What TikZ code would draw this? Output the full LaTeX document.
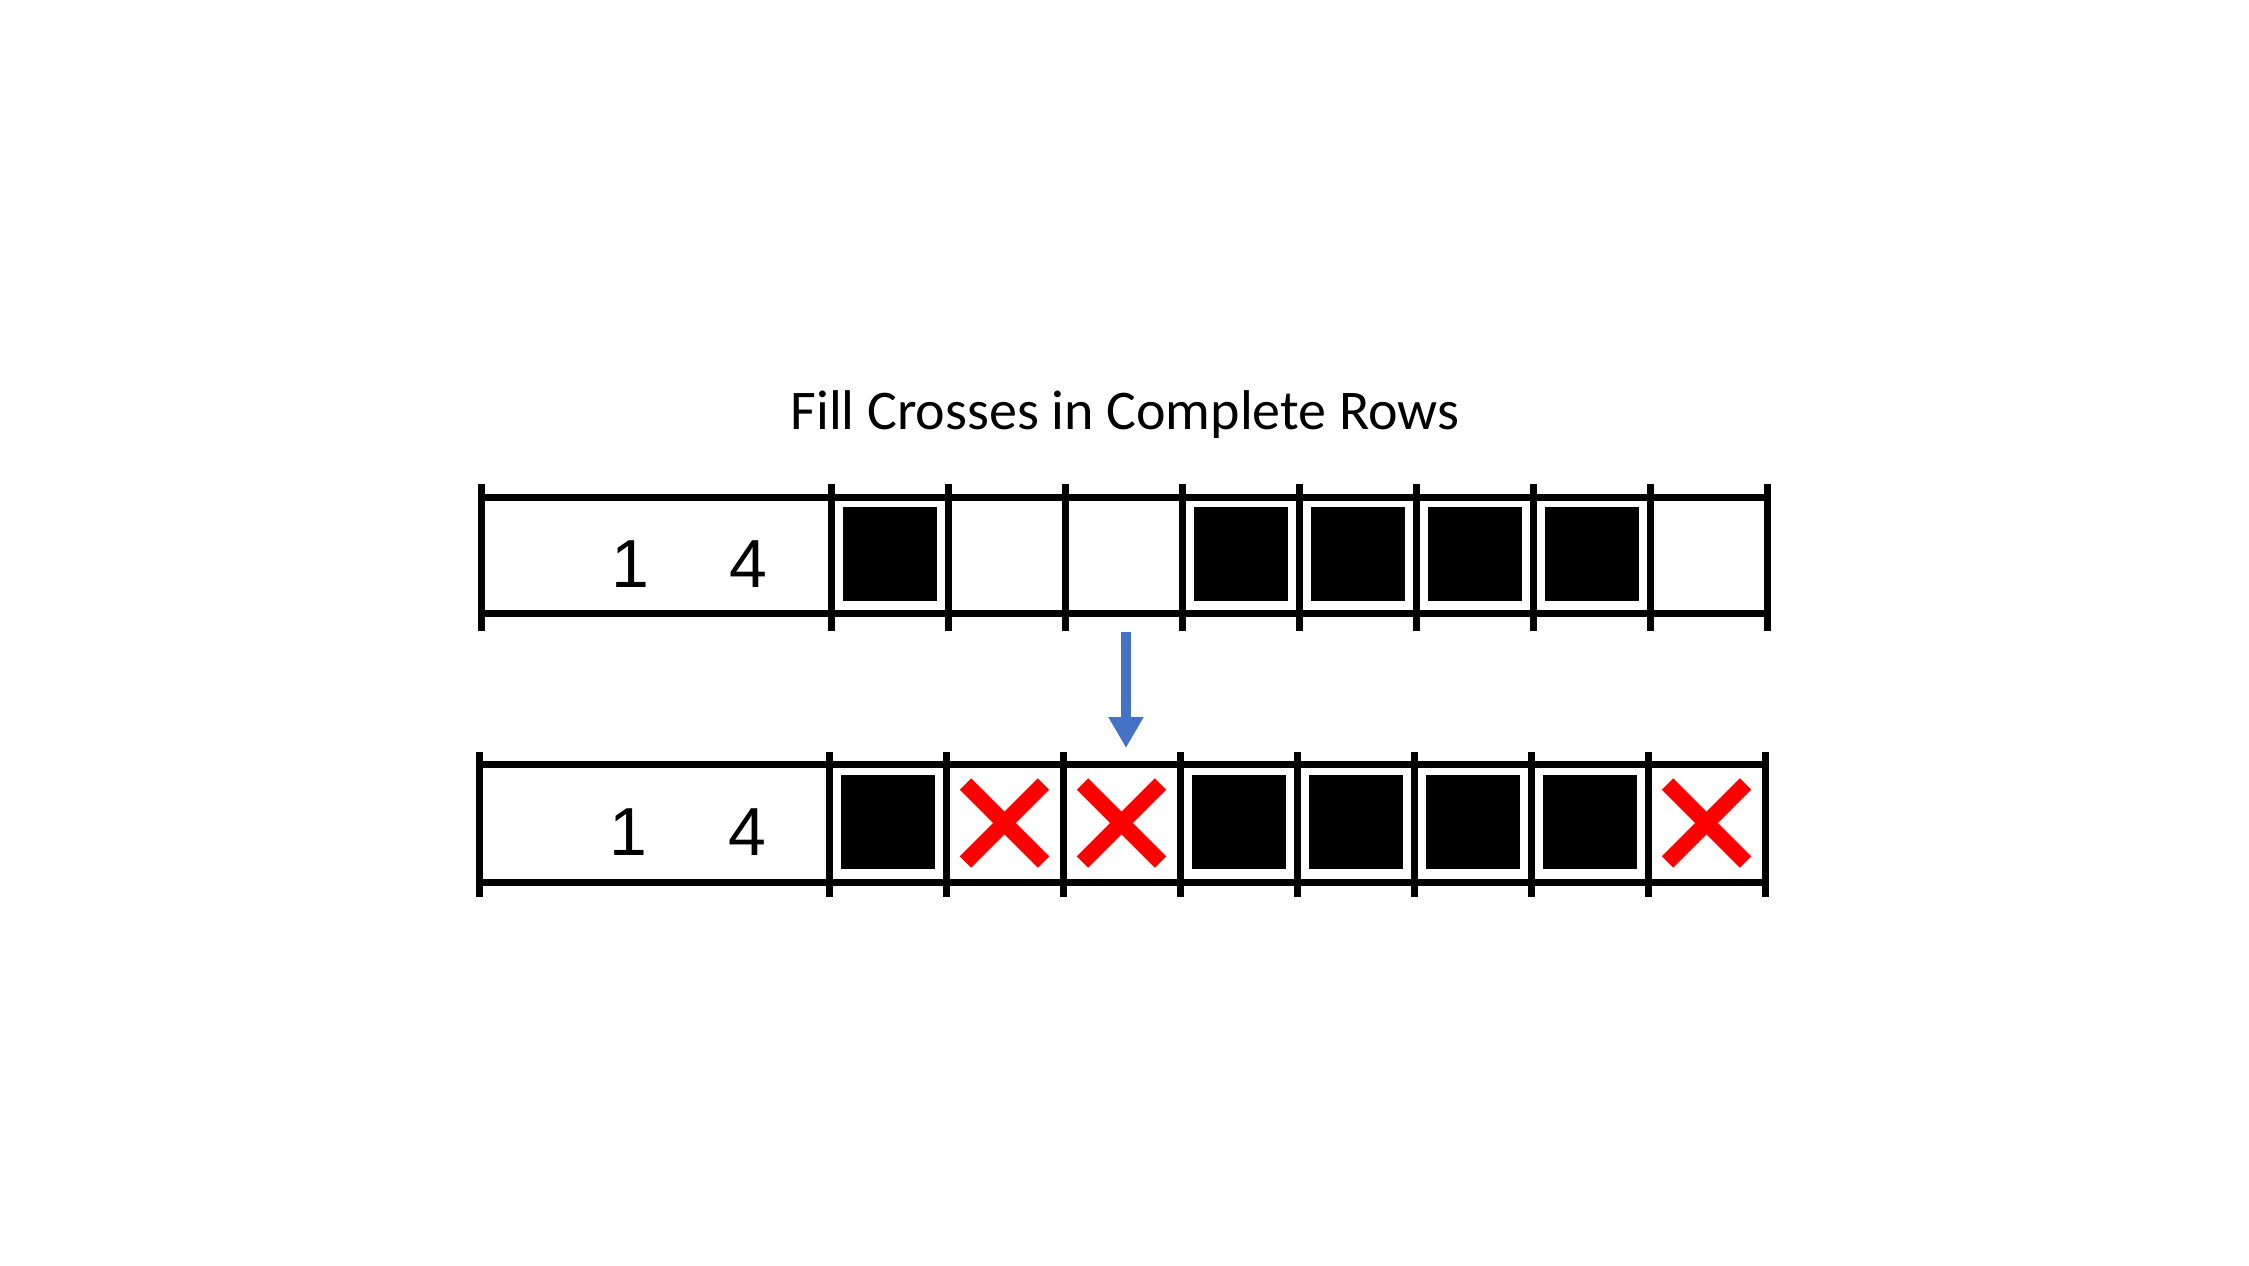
\documentclass[tikz,border=0pt]{standalone}
\usepackage{fontspec}
\setmainfont{Carlito}
\newfontfamily\digitfont{Liberation Sans}
\usetikzlibrary{arrows.meta}
\definecolor{arrowblue}{HTML}{4472C4}
\definecolor{crossred}{HTML}{FF0000}
\tikzset{
  gridline/.style={line width=3.5pt,draw=black},
  blacksq/.style={fill=black,draw=none,minimum size=47pt,inner sep=0pt},
  crossmark/.style={draw=crossred,line width=8pt,line cap=butt},
  clue/.style={font=\digitfont\fontsize{34}{40}\selectfont,anchor=base,inner sep=0pt},
  titlestyle/.style={font=\fontsize{28}{33}\selectfont,anchor=base,inner sep=0pt},
  flowarrow/.style={draw=arrowblue,line width=5pt,-{Triangle[length=15.5pt,width=16.5pt]}}
}
% #1 left x, #2 first cell x, #3 top y, #4 bottom y, #5 tick top, #6 tick bottom
\newcommand\puzzlerow[6]{%
  \draw[gridline] (#1,#3) -- (#2+936,#3);
  \draw[gridline] (#1,#4) -- (#2+936,#4);
  \draw[gridline] (#1,#5) -- (#1,#6);
  \foreach \k in {0,...,8}{\draw[gridline] (#2+117*\k,#5) -- (#2+117*\k,#6);}
}
\begin{document}
\begin{tikzpicture}[x=0.5pt,y=-0.5pt]
\useasboundingbox[fill=white] (0,0) rectangle (2249,1265);
\node[titlestyle] (title) at (1125,429) {Fill Crosses in Complete Rows};

% top row
\puzzlerow{481}{831}{497}{613}{484}{631}
\node[clue] (topone) at (630,587) {1};
\node[clue] (topfour) at (748,587) {4};
\foreach \k/\nm in {0/ta,3/tb,4/tc,5/td,6/te}{
  \node[blacksq] (\nm) at (831+58.5+117*\k,554) {};
}

% bottom row
\puzzlerow{479}{829}{764}{882}{752}{897}
\node[clue] (botone) at (628,855) {1};
\node[clue] (botfour) at (747,855) {4};
\foreach \k/\nm in {0/ba,3/bb,4/bc,5/bd,6/be}{
  \node[blacksq] (\nm) at (829+58.5+117*\k,822) {};
}
\foreach \k in {1,2,7}{
  \coordinate (cx\k) at (829+58.5+117*\k,823);
  \draw[crossmark] ([shift={(-39,-39)}]cx\k) -- ([shift={(39,39)}]cx\k);
  \draw[crossmark] ([shift={(-39,39)}]cx\k) -- ([shift={(39,-39)}]cx\k);
}

% arrow
\coordinate (arrowstart) at (1126,632);
\coordinate (arrowend) at (1126,748);
\draw[flowarrow] (arrowstart) -- (arrowend);
\end{tikzpicture}
\end{document}
